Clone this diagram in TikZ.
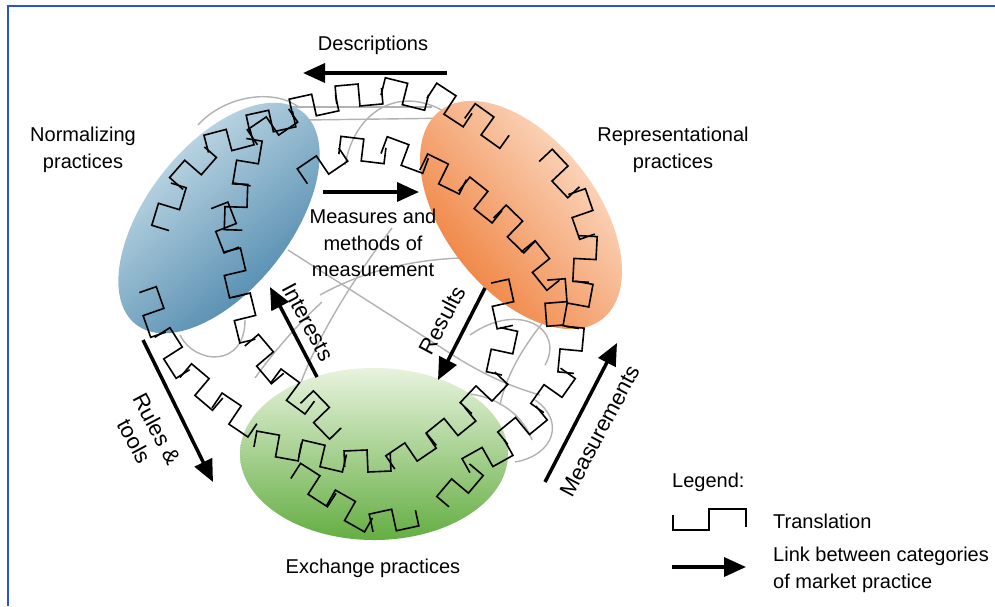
\documentclass[tikz,border=0pt]{standalone}
\usepackage{fontspec}
\setmainfont{Liberation Sans}
\usetikzlibrary{arrows.meta,shapes.geometric}
\definecolor{frameblue}{RGB}{40,85,215}
\definecolor{blueL}{RGB}{214,232,240}
\definecolor{blueM}{RGB}{130,175,200}
\definecolor{blueD}{RGB}{72,132,170}
\definecolor{orangeL}{RGB}{253,232,216}
\definecolor{orangeM}{RGB}{243,142,82}
\definecolor{orangeD}{RGB}{238,116,42}
\definecolor{greenL}{RGB}{232,243,222}
\definecolor{greenM}{RGB}{160,205,130}
\definecolor{greenD}{RGB}{100,174,66}
\definecolor{greyline}{RGB}{178,178,178}
% one translation unit centred at (#1,#2), turned by #3 degrees
\newcommand\tunit[3]{\draw[tline, shift={(#1,#2)}, rotate=#3] (-23,7)--(-23,-11)--(0,-11)--(0,11)--(23,11)--(23,-5);}
% units laid along a straight piece
\newcommand\tseg[4]{%
  \pgfmathsetmacro\segL{veclen(#3-#1,#4-#2)}%
  \pgfmathsetmacro\segA{atan2(#2-#4,#3-#1)}%
  \pgfmathtruncatemacro\segN{max(1,round(\segL/46))}%
  \foreach \k in {1,...,\segN}{%
    \pgfmathsetmacro\tx{#1+(#3-#1)*(\k-0.5)/\segN}%
    \pgfmathsetmacro\ty{#2+(#4-#2)*(\k-0.5)/\segN}%
    \pgfmathsetmacro\ta{\segA+rand*12}%
    \tunit{\tx}{\ty}{\ta}%
  }}
% a chain of translations through a list of points x/y
\newcommand\tchain[1]{%
  \foreach \px/\py [count=\c, remember=\px as \lx (initially 0), remember=\py as \ly (initially 0)] in {#1}{%
    \ifnum\c>1 \tseg{\lx}{\ly}{\px}{\py}\fi}}
\begin{document}
\pgfmathsetseed{5}
\begin{tikzpicture}[x=1pt,y=-1pt,
  lab/.style={font=\fontsize{20}{26.5}\selectfont, align=center, inner sep=0pt},
  rlab/.style={font=\fontsize{22}{25.5}\selectfont, align=center, inner sep=0pt},
  link/.style={line width=3.5pt, -{Triangle[length=22pt,width=19pt]}},
  tline/.style={line width=1.6pt, line join=miter, black},
  greyc/.style={line width=1.4pt, greyline},
  region/.style={ellipse, inner sep=0pt, outer sep=0pt}
]
\useasboundingbox (0,0) rectangle (995,606);
\fill[white] (0,0) rectangle (995,606);
\draw[frameblue, line width=1.6pt] (8,606) -- (8,6) -- (995,6);

% grey tangle lines (behind the regions)
\draw[greyc] (198,125) .. controls (225,95) and (275,88) .. (300,108);
\draw[greyc] (290,107) -- (432,107);
\draw[greyc] (305,120) -- (460,118);
\draw[greyc] (345,165) .. controls (355,110) and (400,85) .. (445,112);
\draw[greyc] (288,250) -- (445,350) .. controls (475,370) and (505,385) .. (540,395);
\draw[greyc] (300,385) .. controls (320,330) and (360,270) .. (392,228);
\draw[greyc] (320,295) .. controls (380,262) and (450,250) .. (560,262);
\draw[greyc] (180,335) .. controls (195,365) and (245,368) .. (245,320);
\draw[greyc] (255,378) .. controls (275,350) and (300,322) .. (322,302);
\draw[greyc] (470,335) .. controls (520,300) and (565,330) .. (545,365);
\draw[greyc] (545,320) .. controls (520,350) and (505,380) .. (500,405);
\draw[greyc] (535,400) .. controls (565,420) and (555,455) .. (515,462);
\draw[greyc] (430,402) .. controls (470,380) and (520,405) .. (532,440);

% the three categories of market practice
\node[region, minimum width=270pt, minimum height=144pt, rotate=52,
      top color=blueL, middle color=blueM, bottom color=blueD, shading angle=40] (norm) at (219,218) {};
\node[region, minimum width=264pt, minimum height=152pt, rotate=-52,
      top color=orangeL, middle color=orangeM, bottom color=orangeD, shading angle=-50] (repr) at (521,215) {};
\node[region, minimum width=268pt, minimum height=172pt,
      top color=greenL, middle color=greenM, bottom color=greenD] (exch) at (374,454) {};

% translation chains
\tchain{160/228, 178/185, 208/150, 250/130, 292/112, 336/98, 382/92, 428/96, 472/114, 503/138}
\tchain{232/230, 240/184, 255/140, 290/112}
\tchain{305/180, 340/150, 385/150, 425/160, 462/188, 500/212, 530/246, 552/285, 560/320}
\tchain{545/155, 575/192, 590/236, 580/282, 576/328, 566/372, 540/410, 505/442, 470/472, 450/500}
\tchain{500/280, 506/328, 498/375, 470/412, 432/442, 390/462, 345/460, 300/452, 255/440}
\tchain{147/290, 160/334, 186/372, 218/402, 252/428}
\tchain{220/205, 232/250, 238/296, 252/340, 278/378, 308/405, 335/425}
\tchain{298/470, 330/500, 370/522, 418/518}

% links between categories
\coordinate (dA) at (447,73);  \coordinate (dB) at (303,73);
\coordinate (mA) at (323,192); \coordinate (mB) at (419,192);
\coordinate (iA) at (317,377); \coordinate (iB) at (270,287);
\coordinate (rA) at (485,288); \coordinate (rB) at (438,380);
\coordinate (tA) at (143,340); \coordinate (tB) at (213,482);
\coordinate (sA) at (545,482); \coordinate (sB) at (617,343);
\draw[link] (dA) -- (dB);
\draw[link] (mA) -- (mB);
\draw[link] (iA) -- (iB);
\draw[link] (rA) -- (rB);
\draw[link] (tA) -- (tB);
\draw[link] (sA) -- (sB);

% labels
\node[lab] (normtxt) at (83,150) {Normalizing\\practices};
\node[lab] (reptxt) at (673,150) {Representational\\practices};
\node[lab] (exctxt) at (373,568) {Exchange practices};
\node[lab] (desctxt) at (373,45) {Descriptions};
\node[lab] (meastxt) at (373,243) {Measures and\\methods of\\measurement};
\node[rlab, rotate=-62] (inttxt) at (308,322) {Interests};
\node[rlab, rotate=62] (restxt) at (442,320) {Results};
\node[rlab, rotate=-62] (rultxt) at (146,435) {Rules \&\\tools};
\node[rlab, rotate=62] (meatxt) at (600,431) {Measurements};

% legend
\node[lab, anchor=west] (legtxt) at (672,482) {Legend:};
\coordinate (legT) at (673,515);
\draw[tline] (legT) -- ++(0,15) -- ++(36,0) -- ++(0,-21) -- ++(37,0) -- ++(0,18);
\node[lab, anchor=west] (trtxt) at (773,521) {Translation};
\coordinate (legA1) at (672,567); \coordinate (legA2) at (746,567);
\draw[link] (legA1) -- (legA2);
\node[lab, anchor=west, align=left] (linktxt) at (773,570) {Link between categories\\of market practice};
\end{tikzpicture}
\end{document}
